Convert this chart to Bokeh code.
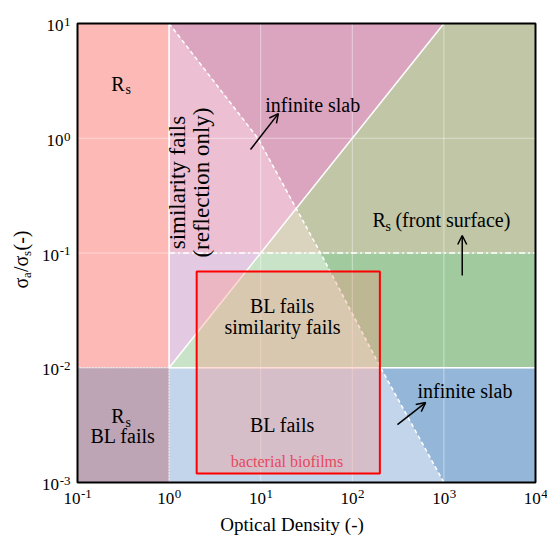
import math
from bokeh.plotting import figure
from bokeh.models import Label, Arrow, OpenHead
from bokeh.embed import file_html
from bokeh.resources import INLINE

# ---------------- data ----------------
x_tick_exp = [-1, 0, 1, 2, 3, 4]
y_tick_exp = [-3, -2, -1, 0, 1]
x_lim = [0.1, 1e4]
y_lim = [1e-3, 10]

od_split = 1.0          # vertical boundary
ratio_high = 0.1        # R_s (front surface) boundary
ratio_low = 0.01        # BL boundary

# dashed "infinite slab" boundary
curve_od = [1, 9.3, 45, 204, 1000]
curve_ratio = [10, 1, 0.1, 0.01, 0.001]

# similarity boundary (solid diagonal)
diag_od = [1, 1000]
diag_ratio = [0.01, 10]

# bacterial biofilms box
box_od = [2, 200]
box_ratio = [0.0012, 0.069]

# region colours
c_left_top = "#FDB9B6"
c_left_bot = "#BDA5B5"
c_sim_fail = "#ECC0D2"
c_inf_top = "#DCA5BF"
c_tan = "#DAD3BE"
c_olive = "#C0C6A6"
c_lpurple = "#E3CAE2"
c_lgreen = "#C9E3C9"
c_green = "#A1CB9F"
c_lblue = "#C3D5EA"
c_blue = "#94B6D8"

FONT = "'Liberation Serif', 'Times New Roman', serif"

# ---------------- layout ----------------
W, H = 547, 536
PAD_L, PAD_R, PAD_T, PAD_B = 77, 12, 23, 54
L = math.log10
pdx = (W - PAD_L - PAD_R) / (L(x_lim[1]) - L(x_lim[0]))
pdy = (H - PAD_T - PAD_B) / (L(y_lim[1]) - L(y_lim[0]))
xr = (10 ** (L(x_lim[0]) - PAD_L / pdx), 10 ** (L(x_lim[1]) + PAD_R / pdx))
yr = (10 ** (L(y_lim[0]) - PAD_B / pdy), 10 ** (L(y_lim[1]) + PAD_T / pdy))


def diag_log(lx):
    m = (L(diag_ratio[1]) - L(diag_ratio[0])) / (L(diag_od[1]) - L(diag_od[0]))
    return L(diag_ratio[0]) + m * (lx - L(diag_od[0]))


def diag_od_at(ratio):
    m = (L(diag_ratio[1]) - L(diag_ratio[0])) / (L(diag_od[1]) - L(diag_od[0]))
    return 10 ** (L(diag_od[0]) + (L(ratio) - L(diag_ratio[0])) / m)


def curve_diag_cross():
    for i in range(len(curve_od) - 1):
        a, b = L(curve_od[i]), L(curve_ratio[i])
        c, d = L(curve_od[i + 1]), L(curve_ratio[i + 1])
        f0 = b - diag_log(a)
        f1 = d - diag_log(c)
        if f0 * f1 <= 0:
            t = f0 / (f0 - f1)
            return i, 10 ** (a + t * (c - a)), 10 ** (b + t * (d - b))
    return None


p = figure(width=W, height=H, x_axis_type="log", y_axis_type="log",
           x_range=xr, y_range=yr, output_backend="svg", toolbar_location=None,
           min_border=0)
p.axis.visible = False
p.grid.visible = False
p.outline_line_color = None
p.background_fill_color = "white"
p.border_fill_color = "white"


def poly(xs, ys, color):
    p.patch(xs, ys, fill_color=color, line_color=color, line_width=0.5)


xmin, xmax = x_lim
ymin, ymax = y_lim

# base bands (x > od_split)
poly([od_split, xmax, xmax, od_split], [ratio_high, ratio_high, ymax, ymax], c_tan)
poly([od_split, xmax, xmax, od_split], [ratio_low, ratio_low, ratio_high, ratio_high], c_lgreen)
poly([od_split, xmax, xmax, od_split], [ymin, ymin, ratio_low, ratio_low], c_lblue)

# right of the dashed curve, per band
for lo, hi, col in [(ratio_high, ymax, c_olive), (ratio_low, ratio_high, c_green), (ymin, ratio_low, c_blue)]:
    xs = [o for o, r in zip(curve_od, curve_ratio) if lo <= r <= hi]
    ys = [r for r in curve_ratio if lo <= r <= hi]
    poly(xs + [xmax, xmax], ys + [lo, hi], col)

# above diagonal
idx, px, py = curve_diag_cross()
d01 = diag_od_at(ratio_high)
poly([curve_od[0], diag_od[1]] + [px] + curve_od[idx:0:-1],
     [curve_ratio[0], diag_ratio[1]] + [py] + curve_ratio[idx:0:-1], c_inf_top)
poly(curve_od[:idx + 1] + [px, d01, od_split],
     curve_ratio[:idx + 1] + [py, ratio_high, ratio_high], c_sim_fail)
poly([diag_od[0], d01, od_split], [diag_ratio[0], ratio_high, ratio_high], c_lpurple)

# left column
poly([xmin, od_split, od_split, xmin], [ratio_low, ratio_low, ymax, ymax], c_left_top)
poly([xmin, od_split, od_split, xmin], [ymin, ymin, ratio_low, ratio_low], c_left_bot)

# faint decade grid
gx = [10.0 ** e for e in x_tick_exp[1:-1]]
gy = [10.0 ** e for e in y_tick_exp[1:-1]]
p.segment(x0=gx, x1=gx, y0=[ymin] * len(gx), y1=[ymax] * len(gx),
          line_color="white", line_alpha=0.45, line_width=1)
p.segment(x0=[xmin] * len(gy), x1=[xmax] * len(gy), y0=gy, y1=gy,
          line_color="white", line_alpha=0.45, line_width=1)

# boundary lines
p.line([od_split, od_split], [ratio_low, ymax], line_color="white", line_width=1.5)
p.line([od_split, od_split], [ymin, ratio_low], line_color="white", line_width=1.2, line_dash="1 2")
p.line([xmin, od_split], [ratio_low, ratio_low], line_color="white", line_width=1.2, line_dash="1 2")
p.line([od_split, xmax], [ratio_low, ratio_low], line_color="white", line_width=1.5)
p.line([od_split, xmax], [ratio_high, ratio_high], line_color="white", line_width=1.5, line_dash="6 3 2 3")
p.line(diag_od, diag_ratio, line_color="white", line_width=1.5)
p.line(curve_od, curve_ratio, line_color="white", line_width=1.5, line_dash="4 3")

# bacterial biofilms box
p.quad(left=box_od[0], right=box_od[1], bottom=box_ratio[0], top=box_ratio[1],
       fill_color="#FF8C78", fill_alpha=0.3, line_color="#FF0000", line_width=2)

# plot frame
p.quad(left=xmin, right=xmax, bottom=ymin, top=ymax, fill_color=None,
       line_color="black", line_width=2)

BASE_CORR = 0.35   # shift (in em) so that the anchor acts as the text baseline


def txt(x, y, s, size=20, align="center", baseline="alphabetic", xo=0, yo=0,
        angle=0, color="black"):
    if baseline == "alphabetic":
        c = BASE_CORR * size
        xo -= c * math.sin(angle)
        yo += c * math.cos(angle)
        baseline = "middle"
    p.add_layout(Label(x=x, y=y, text=s, text_font=FONT, text_font_size=f"{size}px",
                       text_align=align, text_baseline=baseline, x_offset=xo,
                       y_offset=yo, angle=angle, text_color=color))


def rs(x, y, size=20):
    txt(x, y, "R", size, align="right")
    txt(x, y, "s", size - 6, align="left", xo=1, yo=-4)


# tick labels
def exp_w(s):
    return sum(4.5 if ch == "-" else 6.5 for ch in s)


for e in x_tick_exp:
    s = str(e)
    w10, we = 17, exp_w(s)
    xo = w10 - (w10 + we) / 2
    txt(10.0 ** e, ymin, "10", 17, align="right", xo=xo, yo=-22)
    txt(10.0 ** e, ymin, s, 13, align="left", xo=xo + 0.5, yo=-16)

for e in y_tick_exp:
    s = str(e)
    we = exp_w(s)
    txt(xmin, 10.0 ** e, s, 13, align="right", xo=-7, yo=-3)
    txt(xmin, 10.0 ** e, "10", 17, align="right", xo=-7 - we - 0.5, yo=-8)

# axis labels
txt(22, ymin, "Optical Density (-)", 19, yo=-49)
ang = math.pi / 2
yo = -35.5
for s, sz, dx, w in [("σ", 20, 0, 10.5), ("a", 13, 4, 6), ("/σ", 20, 0, 16),
                     ("s", 13, 4, 5.5), (" (-)", 20, 0, 25)]:
    txt(xmin, ratio_high, s, sz, align="left", xo=-50 + dx, yo=yo, angle=ang)
    yo += w

# region annotations
rs(0.326, 2.6)
txt(37, 1.71, "infinite slab")
txt(1.236, 0.411, "similarity fails", 23, baseline="middle", angle=ang)
txt(2.26, 0.411, "(reflection only)", 23, baseline="middle", angle=ang)
txt(166, 0.167, "R", align="left")
txt(166, 0.167, "s", 14, align="left", xo=13, yo=-4)
txt(166, 0.167, "(front surface)", align="left", xo=23)
txt(17.3, 0.0303, "BL fails")
txt(17.3, 0.0195, "similarity fails")
txt(17.3, 0.00273, "BL fails")
txt(19.4, 0.00135, "bacterial biofilms", 16, color="#E8475F")
txt(1700, 0.0054, "infinite slab")
rs(0.326, 0.00327)
txt(0.314, 0.00219, "BL fails")

# arrows
for (x0, y0, x1, y1) in [(7.74, 0.797, 15.6, 1.64), (1585, 0.0637, 1585, 0.142),
                         (311, 0.0032, 631, 0.00497)]:
    p.add_layout(Arrow(x_start=x0, y_start=y0, x_end=x1, y_end=y1,
                       line_color="black", line_width=1.5,
                       end=OpenHead(size=9, line_width=1.5, line_color="black")))

open("out.html", "w").write(file_html(p, INLINE))
